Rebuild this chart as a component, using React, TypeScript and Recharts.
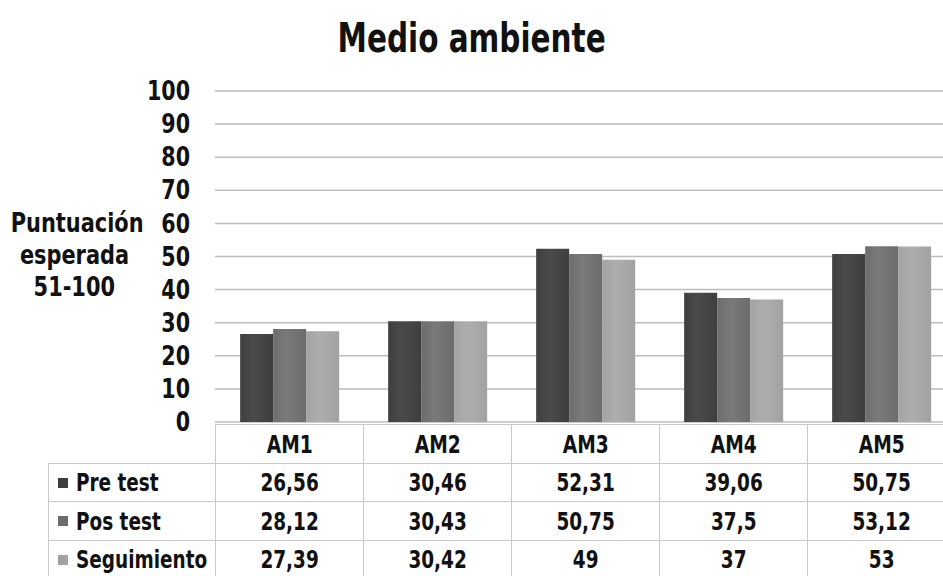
import { BarChart, Bar, XAxis, YAxis, CartesianGrid } from 'recharts';

const FONT = '"DejaVu Sans Condensed", "DejaVu Sans", sans-serif';

const categories = ['AM1', 'AM2', 'AM3', 'AM4', 'AM5'];
const preTest = [26.56, 30.46, 52.31, 39.06, 50.75];
const posTest = [28.12, 30.43, 50.75, 37.5, 53.12];
const seguimiento = [27.39, 30.42, 49, 37, 53];
const yTicks = [0, 10, 20, 30, 40, 50, 60, 70, 80, 90, 100];

const SERIES = [
    { key: 'pre', name: 'Pre test', values: preTest, color: '#3e3e3e', light: '#4a4a4a' },
    { key: 'pos', name: 'Pos test', values: posTest, color: '#6c6c6c', light: '#7a7a7a' },
    { key: 'seg', name: 'Seguimiento', values: seguimiento, color: '#a2a2a2', light: '#aeaeae' },
];

const chartData = categories.map((cat, i) => {
    const row: any = { cat };
    SERIES.forEach(s => { row[s.key] = s.values[i]; });
    return row;
});

// geometry shared by the plot and the data table underneath
const PLOT_LEFT = 215;
const PLOT_TOP = 91;
const PLOT_BOTTOM = 422;
const CAT_W = 148;
const ROW_H = 38.5;
const TABLE_TOP = 424;
const LEGEND_LEFT = 48;

const fmt = (v: number) => String(v).replace('.', ',');

const cellBorder = '1.5px solid #c9c9c9';

// narrow heavy lettering: squeeze the condensed face a bit more
function Narrow({ children, scale, origin = 'center' }: { children: any; scale: number; origin?: string }) {
    return (
        <span style={{ display: 'inline-block', transform: `scaleX(${scale})`, transformOrigin: origin, whiteSpace: 'nowrap' }}>
            {children}
        </span>
    );
}

function YTick({ x, y, payload }: any) {
    return (
        <text
            transform={`translate(${x},${y}) scale(0.85,1)`}
            textAnchor="end"
            dominantBaseline="central"
            fontFamily={FONT}
            fontWeight={700}
            fontSize={27}
            fill="#111"
        >
            {payload.value}
        </text>
    );
}

function DataTable() {
    const textStyle: React.CSSProperties = {
        fontFamily: FONT, fontWeight: 700, fontSize: 25, color: '#111',
    };
    const cells: JSX.Element[] = [];
    categories.forEach((c, i) => {
        cells.push(
            <div key={`h${i}`} style={{
                position: 'absolute', left: PLOT_LEFT + i * CAT_W, top: TABLE_TOP,
                width: CAT_W, height: ROW_H, borderLeft: cellBorder, borderTop: cellBorder,
                display: 'flex', alignItems: 'center', justifyContent: 'center', ...textStyle,
            }}><Narrow scale={0.83}>{c}</Narrow></div>
        );
    });
    SERIES.forEach((s, r) => {
        const top = TABLE_TOP + (r + 1) * ROW_H;
        cells.push(
            <div key={`l${r}`} style={{
                position: 'absolute', left: LEGEND_LEFT, top, width: PLOT_LEFT - LEGEND_LEFT,
                height: ROW_H, borderLeft: cellBorder, borderTop: cellBorder,
                display: 'flex', alignItems: 'center', ...textStyle,
            }}>
                <span style={{ display: 'inline-block', flexShrink: 0, width: 10, height: 10, background: s.color, marginLeft: 9, marginRight: 8 }} />
                <Narrow scale={0.82} origin="left">{s.name}</Narrow>
            </div>
        );
        s.values.forEach((v, i) => {
            cells.push(
                <div key={`c${r}-${i}`} style={{
                    position: 'absolute', left: PLOT_LEFT + i * CAT_W, top, width: CAT_W,
                    height: ROW_H, borderLeft: cellBorder, borderTop: cellBorder,
                    display: 'flex', alignItems: 'center', justifyContent: 'center', ...textStyle,
                }}><Narrow scale={0.82}>{fmt(v)}</Narrow></div>
            );
        });
    });
    return <>{cells}</>;
}

export default function App() {
    return (
        <div style={{ position: 'fixed', left: 0, top: 0, width: 943, height: 576, overflow: 'hidden', background: '#fff' }}>
            <div style={{
                position: 'absolute', left: 0, width: 943, top: 14, textAlign: 'center',
                fontFamily: FONT, fontWeight: 700, fontSize: 41, color: '#111',
            }}><Narrow scale={0.8}>Medio ambiente</Narrow></div>

            <div style={{
                position: 'absolute', left: 0, width: 148, top: 207, textAlign: 'center',
                fontFamily: FONT, fontWeight: 700, fontSize: 27, lineHeight: '32px', color: '#111',
            }}>
                <Narrow scale={0.86}>Puntuación</Narrow><br />
                <Narrow scale={0.86}>esperada</Narrow><br />
                <Narrow scale={0.86}>51-100</Narrow>
            </div>

            <div style={{ position: 'absolute', left: 0, top: 0 }}>
                <BarChart
                    width={PLOT_LEFT + CAT_W * 5}
                    height={PLOT_BOTTOM + 20}
                    data={chartData}
                    margin={{ top: PLOT_TOP, right: 0, bottom: 20, left: 0 }}
                    barCategoryGap="17%"
                    barGap={0}
                >
                    <defs>
                        {SERIES.map(s => (
                            <linearGradient key={s.key} id={`grad-${s.key}`} x1="0" y1="0" x2="1" y2="0">
                                <stop offset="0%" stopColor={s.color} />
                                <stop offset="40%" stopColor={s.light} />
                                <stop offset="100%" stopColor={s.color} />
                            </linearGradient>
                        ))}
                    </defs>
                    <CartesianGrid vertical={false} stroke="#bdbdbd" strokeWidth={1.5} />
                    <XAxis dataKey="cat" hide />
                    <YAxis
                        width={PLOT_LEFT}
                        domain={[0, 100]}
                        ticks={yTicks}
                        interval={0}
                        axisLine={false}
                        tickLine={false}
                        tickSize={0}
                        tickMargin={25}
                        tick={<YTick />}
                    />
                    {SERIES.map(s => (
                        <Bar
                            key={s.key}
                            dataKey={s.key}
                            name={s.name}
                            fill={`url(#grad-${s.key})`}
                            isAnimationActive={false}
                        />
                    ))}
                </BarChart>
            </div>

            <DataTable />
        </div>
    );
}
